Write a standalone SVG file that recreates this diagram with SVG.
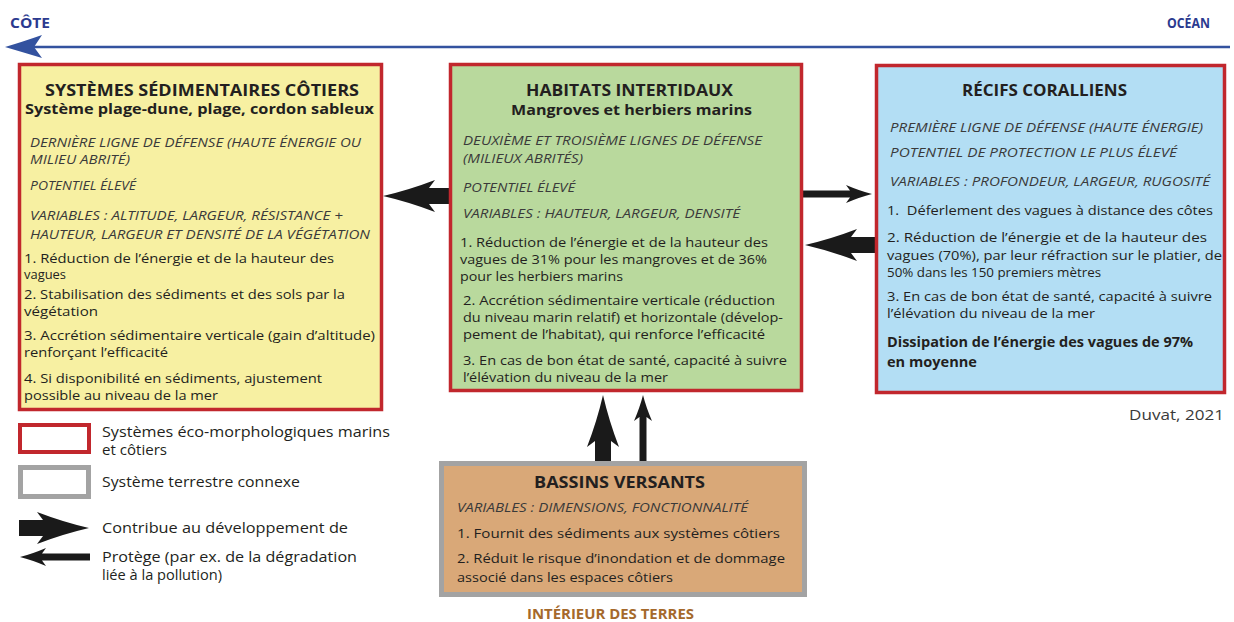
<svg xmlns="http://www.w3.org/2000/svg" xmlns:xlink="http://www.w3.org/1999/xlink" width="1234" height="622" viewBox="0 0 1234 622">
<style>
.t{font-family:"Open Sans","Liberation Sans",sans-serif;fill:#231f20}
.title{font-weight:700;font-size:16.5px}
.sub{font-weight:700;font-size:14px}
.it{font-style:italic;font-size:12.6px;fill:#3a3a3a}
.b{font-size:13px}
.bb{font-weight:700;font-size:13.5px}
.hdr{font-weight:700;font-size:14px;fill:#2b3a8f}
.red{stroke:#c1272d;stroke-width:3.5}
.gray{stroke:#a3a3a3;stroke-width:5}
.arr{fill:#1a1a1a}
</style>
<defs>
<path id="big" d="M0,0 Q-26,-6 -52,-16 L-46,-8 L-70,-8 L-70,8 L-46,8 L-52,16 Q-26,6 0,0 Z"/>
<path id="thin" d="M0,0 Q-12,-3 -26,-9 L-22,-3.5 L-70,-3.5 L-70,3.5 L-22,3.5 L-26,9 Q-12,3 0,0 Z"/>
</defs>
<rect width="1234" height="622" fill="#ffffff"/>

<g id="header">
<line x1="30" y1="47" x2="1230" y2="47" stroke="#33529f" stroke-width="2.5"/>
<path d="M5,47 Q22,42 42,35 L34,47 L42,58 Q22,52 5,47 Z" fill="#33529f"/>
<text class="t hdr" x="10" y="28" textLength="40" lengthAdjust="spacingAndGlyphs">CÔTE</text>
<text class="t hdr" x="1210" y="28" text-anchor="end" textLength="43" lengthAdjust="spacingAndGlyphs">OCÉAN</text>
</g>

<g id="connectors" class="arr">
<use xlink:href="#big" transform="translate(383,196) rotate(180)"/>
<use xlink:href="#thin" transform="translate(872,194)"/>
<use xlink:href="#big" transform="translate(805,245) rotate(180)"/>
<use xlink:href="#big" transform="translate(603,395) rotate(-90)"/>
<use xlink:href="#thin" transform="translate(643,395) rotate(-90)"/>
</g>

<g id="n-sedimentaires">
<rect x="19.5" y="64.5" width="362" height="345" fill="#f7f0a2" class="red"/>
<text class="t title" x="202" y="96" text-anchor="middle" textLength="314" lengthAdjust="spacingAndGlyphs">SYSTÈMES SÉDIMENTAIRES CÔTIERS</text>
<text class="t sub" x="199.5" y="114" text-anchor="middle" textLength="349" lengthAdjust="spacingAndGlyphs">Système plage-dune, plage, cordon sableux</text>
<text class="t it" x="30" y="147" textLength="331" lengthAdjust="spacingAndGlyphs">DERNIÈRE LIGNE DE DÉFENSE (HAUTE ÉNERGIE OU</text>
<text class="t it" x="30" y="164" textLength="100" lengthAdjust="spacingAndGlyphs">MILIEU ABRITÉ)</text>
<text class="t it" x="30" y="190" textLength="106" lengthAdjust="spacingAndGlyphs">POTENTIEL ÉLEVÉ</text>
<text class="t it" x="30" y="220" textLength="313" lengthAdjust="spacingAndGlyphs">VARIABLES : ALTITUDE, LARGEUR, RÉSISTANCE +</text>
<text class="t it" x="30" y="239" textLength="340" lengthAdjust="spacingAndGlyphs">HAUTEUR, LARGEUR ET DENSITÉ DE LA VÉGÉTATION</text>
<text class="t b" x="24" y="263" textLength="310" lengthAdjust="spacingAndGlyphs">1. Réduction de l’énergie et de la hauteur des</text>
<text class="t b" x="24" y="279" textLength="42" lengthAdjust="spacingAndGlyphs">vagues</text>
<text class="t b" x="24" y="299" textLength="321" lengthAdjust="spacingAndGlyphs">2. Stabilisation des sédiments et des sols par la</text>
<text class="t b" x="24" y="316" textLength="74" lengthAdjust="spacingAndGlyphs">végétation</text>
<text class="t b" x="24" y="340" textLength="351" lengthAdjust="spacingAndGlyphs">3. Accrétion sédimentaire verticale (gain d’altitude)</text>
<text class="t b" x="24" y="357" textLength="144" lengthAdjust="spacingAndGlyphs">renforçant l’efficacité</text>
<text class="t b" x="24" y="383" textLength="298" lengthAdjust="spacingAndGlyphs">4. Si disponibilité en sédiments, ajustement</text>
<text class="t b" x="24" y="400" textLength="194" lengthAdjust="spacingAndGlyphs">possible au niveau de la mer</text>
</g>

<g id="n-intertidaux">
<rect x="450.5" y="64.5" width="351" height="326" fill="#b9d99d" class="red"/>
<text class="t title" x="629.5" y="96" text-anchor="middle" textLength="207" lengthAdjust="spacingAndGlyphs">HABITATS INTERTIDAUX</text>
<text class="t sub" x="631.5" y="115" text-anchor="middle" textLength="241" lengthAdjust="spacingAndGlyphs">Mangroves et herbiers marins</text>
<text class="t it" x="463" y="145" textLength="299" lengthAdjust="spacingAndGlyphs">DEUXIÈME ET TROISIÈME LIGNES DE DÉFENSE</text>
<text class="t it" x="463" y="163" textLength="120" lengthAdjust="spacingAndGlyphs">(MILIEUX ABRITÉS)</text>
<text class="t it" x="463" y="192" textLength="112" lengthAdjust="spacingAndGlyphs">POTENTIEL ÉLEVÉ</text>
<text class="t it" x="463" y="218" textLength="277" lengthAdjust="spacingAndGlyphs">VARIABLES : HAUTEUR, LARGEUR, DENSITÉ</text>
<text class="t b" x="460" y="247" textLength="308" lengthAdjust="spacingAndGlyphs">1. Réduction de l’énergie et de la hauteur des</text>
<text class="t b" x="460" y="264" textLength="307" lengthAdjust="spacingAndGlyphs">vagues de 31% pour les mangroves et de 36%</text>
<text class="t b" x="460" y="281" textLength="163" lengthAdjust="spacingAndGlyphs">pour les herbiers marins</text>
<text class="t b" x="463" y="305" textLength="312" lengthAdjust="spacingAndGlyphs">2. Accrétion sédimentaire verticale (réduction</text>
<text class="t b" x="463" y="322" textLength="320" lengthAdjust="spacingAndGlyphs">du niveau marin relatif) et horizontale (dévelop-</text>
<text class="t b" x="463" y="339" textLength="302" lengthAdjust="spacingAndGlyphs">pement de l’habitat), qui renforce l’efficacité</text>
<text class="t b" x="463" y="365" textLength="324" lengthAdjust="spacingAndGlyphs">3. En cas de bon état de santé, capacité à suivre</text>
<text class="t b" x="463" y="382" textLength="205" lengthAdjust="spacingAndGlyphs">l’élévation du niveau de la mer</text>
</g>

<g id="n-recifs">
<rect x="876.5" y="65.5" width="348" height="327" fill="#b3def4" class="red"/>
<text class="t title" x="1044.5" y="96" text-anchor="middle" textLength="165" lengthAdjust="spacingAndGlyphs">RÉCIFS CORALLIENS</text>
<text class="t it" x="890" y="132" textLength="313" lengthAdjust="spacingAndGlyphs">PREMIÈRE LIGNE DE DÉFENSE (HAUTE ÉNERGIE)</text>
<text class="t it" x="890" y="157" textLength="287" lengthAdjust="spacingAndGlyphs">POTENTIEL DE PROTECTION LE PLUS ÉLEVÉ</text>
<text class="t it" x="890" y="186" textLength="320" lengthAdjust="spacingAndGlyphs">VARIABLES : PROFONDEUR, LARGEUR, RUGOSITÉ</text>
<text class="t b" x="887" y="215" textLength="326" lengthAdjust="spacingAndGlyphs">1.&#160; Déferlement des vagues à distance des côtes</text>
<text class="t b" x="887" y="242" textLength="320" lengthAdjust="spacingAndGlyphs">2. Réduction de l’énergie et de la hauteur des</text>
<text class="t b" x="887" y="260" textLength="335" lengthAdjust="spacingAndGlyphs">vagues (70%), par leur réfraction sur le platier, de</text>
<text class="t b" x="887" y="277" textLength="214" lengthAdjust="spacingAndGlyphs">50% dans les 150 premiers mètres</text>
<text class="t b" x="887" y="301" textLength="325" lengthAdjust="spacingAndGlyphs">3. En cas de bon état de santé, capacité à suivre</text>
<text class="t b" x="887" y="318" textLength="208" lengthAdjust="spacingAndGlyphs">l’élévation du niveau de la mer</text>
<text class="t bb" x="887" y="347" textLength="306" lengthAdjust="spacingAndGlyphs">Dissipation de l’énergie des vagues de 97%</text>
<text class="t bb" x="887" y="367" textLength="90" lengthAdjust="spacingAndGlyphs">en moyenne</text>
</g>

<g id="source">
<text class="t b" x="1224" y="420" text-anchor="end" textLength="95" lengthAdjust="spacingAndGlyphs" style="font-size:14px;fill:#3a3a3a">Duvat, 2021</text>
</g>

<g id="n-bassins">
<rect x="441.5" y="463.5" width="363" height="131" fill="#d9a878" class="gray"/>
<text class="t title" x="619.5" y="488" text-anchor="middle" textLength="171" lengthAdjust="spacingAndGlyphs">BASSINS VERSANTS</text>
<text class="t it" x="457" y="512" textLength="291" lengthAdjust="spacingAndGlyphs">VARIABLES : DIMENSIONS, FONCTIONNALITÉ</text>
<text class="t b" x="457" y="538" textLength="323" lengthAdjust="spacingAndGlyphs">1. Fournit des sédiments aux systèmes côtiers</text>
<text class="t b" x="457" y="563" textLength="328" lengthAdjust="spacingAndGlyphs">2. Réduit le risque d’inondation et de dommage</text>
<text class="t b" x="457" y="582" textLength="216" lengthAdjust="spacingAndGlyphs">associé dans les espaces côtiers</text>
</g>

<g id="footer">
<text class="t" x="610.5" y="619" text-anchor="middle" textLength="167" lengthAdjust="spacingAndGlyphs" style="font-weight:700;font-size:13.5px;fill:#a5692b">INTÉRIEUR DES TERRES</text>
</g>

<g id="legend">
<rect x="20" y="425" width="69" height="27" fill="#ffffff" stroke="#c1272d" stroke-width="4"/>
<text class="t b" x="102" y="437" textLength="288" lengthAdjust="spacingAndGlyphs" style="font-size:14px">Systèmes éco-morphologiques marins</text>
<text class="t b" x="102" y="455" textLength="65" lengthAdjust="spacingAndGlyphs" style="font-size:14px">et côtiers</text>
<rect x="20.5" y="467.5" width="68" height="29" fill="#ffffff" class="gray"/>
<text class="t b" x="102" y="487" textLength="198" lengthAdjust="spacingAndGlyphs" style="font-size:14px">Système terrestre connexe</text>
<use xlink:href="#big" class="arr" transform="translate(89,528)"/>
<text class="t b" x="102" y="533" textLength="246" lengthAdjust="spacingAndGlyphs" style="font-size:14px">Contribue au développement de</text>
<use xlink:href="#thin" class="arr" transform="translate(20,557) rotate(180)"/>
<text class="t b" x="102" y="562" textLength="255" lengthAdjust="spacingAndGlyphs" style="font-size:14px">Protège (par ex. de la dégradation</text>
<text class="t b" x="102" y="580" textLength="120" lengthAdjust="spacingAndGlyphs" style="font-size:14px">liée à la pollution)</text>
</g>
</svg>
